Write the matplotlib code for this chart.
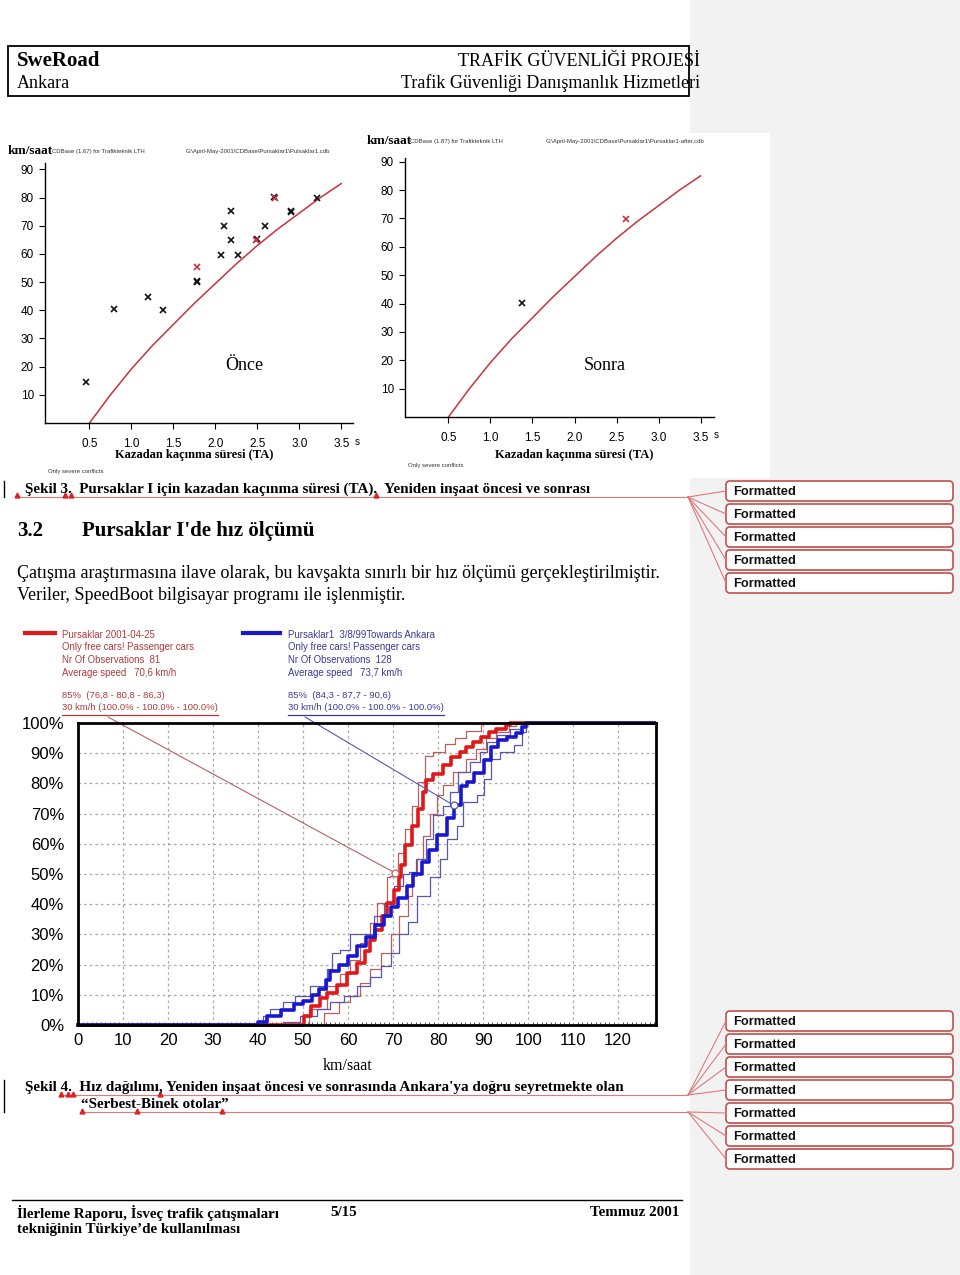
import matplotlib
matplotlib.use('Agg')
import matplotlib.pyplot as plt
from matplotlib.patches import Rectangle, FancyBboxPatch
from matplotlib.ticker import MultipleLocator

SERIF = 'Liberation Serif'
SANS = 'Liberation Sans'

# Sekil 3 - conflict curve (TA in s, speed in km/saat)
ta_curve = [0.5, 0.75, 1.0, 1.25, 1.5, 1.75, 2.0, 2.25, 2.5, 2.75, 3.0, 3.25, 3.5]
speed_curve = [0, 10, 19.2, 27.5, 35, 42.5, 49.5, 56.5, 63, 69, 74.5, 80, 85]

# "Once" conflicts
once_ta_black = [0.46, 0.79, 1.2, 1.38, 1.78, 1.78, 2.07, 2.1, 2.19, 2.19, 2.27, 2.5, 2.59, 2.7, 2.9, 2.9, 3.21]
once_sp_black = [14.7, 40.4, 44.7, 40.1, 50, 50.3, 59.5, 70, 75.2, 65, 59.7, 65.2, 70, 80.3, 74.9, 75.1, 80]
once_ta_red = [1.78, 2.48, 2.71]
once_sp_red = [55.4, 64.8, 79.7]

# "Sonra" conflicts
sonra_ta_black = [1.38]
sonra_sp_black = [40.2]
sonra_ta_red = [2.61]
sonra_sp_red = [69.7]

ta_ticks = [0.5, 1.0, 1.5, 2.0, 2.5, 3.0, 3.5]
speed_ticks = [10, 20, 30, 40, 50, 60, 70, 80, 90]

# Sekil 4 - cumulative speed distributions (km/h, %)
red_sp = [0, 49, 50.2, 51.7, 53.8, 55.3, 57.5, 59.7, 62, 63.8, 64.9, 66, 67.5, 68.6, 70.1, 71.2, 71.8,
          72.6, 74.1, 75.6, 76.7, 77.4, 78.9, 81.1, 82.9, 84.8, 86.2, 87.7, 89.5, 91.4, 92.8, 95, 96, 128]
red_pct = [0, 0, 3, 6.3, 9, 10.6, 13.4, 17.2, 20.5, 24.4, 28.2, 31.5, 36, 40.3, 44.7, 49, 53,
           59.5, 66, 71.5, 77, 81, 83, 86, 88.6, 90.4, 92, 93.6, 95.3, 97, 98, 99.3, 100, 100]
red_hi_sp = [0, 47.9, 51.3, 55.3, 58.3, 60.5, 62.7, 64.9, 66.5, 68.6, 69.3, 71, 72.6, 74.1, 75.6, 77,
             78.9, 81.5, 83.7, 86.2, 89.5, 128]
red_hi_pct = [0, 0, 5.3, 13, 17, 21.6, 27, 33.7, 40.3, 49, 49.4, 57, 64.9, 72.6, 80.3, 89,
              90.3, 93, 95, 97.5, 100, 100]
red_lo_sp = [0, 51.3, 54.6, 57.9, 60.5, 62.7, 64.9, 67.2, 69.5, 71.3, 73.2, 74.1, 75.2, 76.7, 78.2,
             79.7, 81.1, 83.3, 86.2, 88.4, 90.6, 92.8, 95.8, 97.2, 128]
red_lo_pct = [0, 0, 4, 7.5, 9.7, 14, 18.5, 24, 30, 36, 42.7, 49.4, 55, 62.7, 70,
              76, 79.4, 83.8, 88.2, 91.5, 94.9, 97, 99, 100, 100]

blue_sp = [0, 39.5, 40, 42, 45, 48, 50, 52, 53.5, 55, 56, 58, 60, 62, 64, 66, 68, 69.5, 71, 73, 74.5,
           76.5, 78, 79.7, 82, 83.5, 85, 86.5, 88, 90.2, 91.7, 93.2, 95.4, 97.2, 98.7, 99.5, 128]
blue_pct = [0, 0, 1, 3, 5, 7, 8, 10, 12, 15, 18, 20, 23, 26, 29, 33, 36, 39, 42, 46, 50,
            54, 58, 63, 68.6, 73, 79, 80.6, 83.4, 87.8, 92.2, 94.4, 95.5, 96.6, 98.8, 100, 100]
blue_hi_sp = [0, 38.2, 41.1, 42.6, 45.6, 48.2, 51.5, 55.3, 56.4, 58.3, 60.5, 63.5, 65.7, 68, 70.2,
              72.1, 73.6, 75.1, 77.3, 78.8, 81.1, 82.6, 84.4, 87, 89.3, 90.8, 93, 96, 98.3, 128]
blue_hi_pct = [0, 0, 3, 5.3, 7.5, 9.7, 13, 18.5, 24, 25, 30, 30, 36, 40, 46,
               50, 50.5, 55, 61.6, 69.5, 72.6, 77, 83.8, 87, 90.4, 93.6, 96, 98, 100, 100]
blue_lo_sp = [0, 42.6, 45.6, 49.3, 53, 56, 59, 62, 64.9, 67.2, 69.5, 71.3, 73.2, 75.4, 78.2, 80.4,
              81.9, 84.1, 85.6, 88.6, 90.1, 91.7, 93.8, 96.9, 98.7, 99.5, 128]
blue_lo_pct = [0, 0, 1, 3, 5.3, 7.5, 9.7, 13, 16, 19.6, 24, 30, 34, 42.7, 49, 55,
               61.6, 66, 73.7, 76, 81.6, 88.2, 90.4, 92.6, 97, 100, 100]

red_mark = (70.5, 50.3)
blue_mark = (83.5, 72.7)

kmh_ticks = [0, 10, 20, 30, 40, 50, 60, 70, 80, 90, 100, 110, 120]
pct_ticks = [0, 10, 20, 30, 40, 50, 60, 70, 80, 90, 100]

red_legend = ['Pursaklar 2001-04-25', 'Only free cars! Passenger cars',
              'Nr Of Observations  81', 'Average speed   70,6 km/h']
red_legend2 = ['85%  (76,8 - 80,8 - 86,3)', '30 km/h (100.0% - 100.0% - 100.0%)']
blue_legend = ['Pursaklar1  3/8/99Towards Ankara', 'Only free cars! Passenger cars',
               'Nr Of Observations  128', 'Average speed   73,7 km/h']
blue_legend2 = ['85%  (84,3 - 87,7 - 90,6)', '30 km/h (100.0% - 100.0% - 100.0%)']

fig = plt.figure(figsize=(9.6, 12.75), dpi=100)


def rect(l, t, r, b):
    return [l / 960, 1 - b / 1275, (r - l) / 960, (b - t) / 1275]


# page layer in pixel coordinates
bg = fig.add_axes([0, 0, 1, 1])
bg.set_xlim(0, 960)
bg.set_ylim(1275, 0)
bg.axis('off')
bg.set_zorder(0)

bg.add_patch(Rectangle((690, 0), 270, 1275, color='#f2f2f2', lw=0))
bg.add_patch(Rectangle((360, 133), 410, 345, color='white', lw=0))

# header
bg.add_patch(Rectangle((8, 46), 681, 50, fill=False, ec='black', lw=1.3))
bg.text(17, 61, 'SweRoad', fontfamily=SERIF, fontweight='bold', fontsize=15, va='center')
bg.text(17, 83, 'Ankara', fontfamily=SERIF, fontsize=13, va='center')
bg.text(700, 61, 'TRAFİK GÜVENLİĞİ PROJESİ', fontfamily=SERIF, fontsize=13, va='center', ha='right')
bg.text(700, 83, 'Trafik Güvenliği Danışmanlık Hizmetleri', fontfamily=SERIF, fontsize=13,
        va='center', ha='right')

# formatted balloons
red_line = '#e07a7a'
box_ys = [491, 514, 537, 560, 583]
box_ys2 = [1021, 1044, 1067, 1090, 1113, 1136, 1159]
for cy in box_ys + box_ys2:
    bg.add_patch(FancyBboxPatch((726, cy - 10), 227, 20, boxstyle='round,pad=0,rounding_size=4',
                                fc='white', ec='#c0504d', lw=1.2))
    bg.text(733, cy + 1, 'Formatted', fontfamily=SANS, fontweight='bold', fontsize=9.3,
            va='center', color='#111111')
for cy in box_ys:
    bg.plot([688, 726], [497, cy], color=red_line, lw=0.8)
for cy in box_ys2[:4]:
    bg.plot([688, 726], [1095, cy], color=red_line, lw=0.8)
for cy in box_ys2[4:]:
    bg.plot([688, 726], [1112, cy], color=red_line, lw=0.8)

# top charts texts
tiny = dict(fontfamily=SANS, fontsize=4.3, va='center', color='#333333')
bg.text(8, 151, 'km/saat', fontfamily=SERIF, fontweight='bold', fontsize=9.5, va='center')
bg.text(52, 151, 'CDBase (1.67) for Trafikteknik LTH', **tiny)
bg.text(186, 151, 'G:\\April-May-2001\\CDBase\\Pursaklar1\\Pulsaklar1.cdb', **tiny)
bg.text(48, 472, 'Only severe conflicts', **tiny)
bg.text(367, 141, 'km/saat', fontfamily=SERIF, fontweight='bold', fontsize=9.5, va='center')
bg.text(410, 142, 'CDBase (1.87) for Trafikteknik LTH', **tiny)
bg.text(546, 142, 'G:\\April-May-2001\\CDBase\\Pursaklar1\\Pursaklar1-after.cdb', **tiny)
bg.text(408, 465, 'Only severe conflicts', **tiny)
bg.text(194, 455, 'Kazadan kaçınma süresi (TA)', fontfamily=SERIF, fontweight='bold', fontsize=9,
        va='center', ha='center')
bg.text(574, 455, 'Kazadan kaçınma süresi (TA)', fontfamily=SERIF, fontweight='bold', fontsize=9,
        va='center', ha='center')
bg.text(355, 442, 's', fontfamily=SANS, fontsize=7, va='center')
bg.text(714, 435, 's', fontfamily=SANS, fontsize=7, va='center')
bg.text(244, 365, 'Önce', fontfamily=SERIF, fontsize=13, ha='center', va='center')
bg.text(605, 365, 'Sonra', fontfamily=SERIF, fontsize=13, ha='center', va='center')

# Sekil 3 caption and section
bg.text(25, 489, 'Şekil 3.  Pursaklar I için kazadan kaçınma süresi (TA).  Yeniden inşaat öncesi ve sonrası',
        fontfamily=SERIF, fontweight='bold', fontsize=10.9, va='center')
bg.plot([17, 688], [497, 497], color=red_line, lw=0.8)
bg.plot([4, 4], [481, 497], color='black', lw=1)
bg.plot([17, 65, 71, 376], [495, 495, 495, 495], ls='none', marker='^', ms=3.5, color='#e02020')
bg.text(17, 531, '3.2', fontfamily=SERIF, fontweight='bold', fontsize=15, va='center')
bg.text(82, 531, "Pursaklar I'de hız ölçümü", fontfamily=SERIF, fontweight='bold', fontsize=15, va='center')
bg.text(17, 574, 'Çatışma araştırmasına ilave olarak, bu kavşakta sınırlı bir hız ölçümü gerçekleştirilmiştir.',
        fontfamily=SERIF, fontsize=13, va='center')
bg.text(17, 595, 'Veriler, SpeedBoot bilgisayar programı ile işlenmiştir.',
        fontfamily=SERIF, fontsize=13, va='center')

# speed chart legend
red_txt = '#b03a3a'
blue_txt = '#3a3a9a'
bg.plot([25, 55], [633, 633], color='#e01818', lw=3)
bg.plot([243, 280], [633, 633], color='#1818d0', lw=3)
for i, s in enumerate(red_legend):
    bg.text(62, 635 + 12.5 * i, s, fontfamily=SANS, fontsize=6.9, color=red_txt, va='center')
for i, s in enumerate(blue_legend):
    bg.text(288, 635 + 12.5 * i, s, fontfamily=SANS, fontsize=6.9, color=blue_txt, va='center')
for i, s in enumerate(red_legend2):
    bg.text(62, 695 + 12.5 * i, s, fontfamily=SANS, fontsize=6.8, color=red_txt, va='center')
for i, s in enumerate(blue_legend2):
    bg.text(288, 695 + 12.5 * i, s, fontfamily=SANS, fontsize=6.8, color=blue_txt, va='center')
bg.plot([62, 218], [715, 715], color=red_txt, lw=0.9)
bg.plot([288, 444], [715, 715], color=blue_txt, lw=0.9)

# Sekil 4 caption, footer
bg.text(348, 1066, 'km/saat', fontfamily=SERIF, fontsize=11.5, va='center', ha='center')
bg.text(25, 1087, "Şekil 4.  Hız dağılımı, Yeniden inşaat öncesi ve sonrasında Ankara'ya doğru seyretmekte olan",
        fontfamily=SERIF, fontweight='bold', fontsize=10.9, va='center')
bg.text(81, 1104, '“Serbest-Binek otolar”', fontfamily=SERIF, fontweight='bold', fontsize=10.9, va='center')
bg.plot([60, 688], [1095, 1095], color=red_line, lw=0.8)
bg.plot([82, 688], [1112, 1112], color=red_line, lw=0.8)
bg.plot([4, 4], [1080, 1112], color='black', lw=1)
bg.plot([61, 68, 73, 160, 82, 137, 222], [1094, 1094, 1094, 1094, 1111, 1111, 1111],
        ls='none', marker='^', ms=3.5, color='#e02020')

bg.plot([12, 682], [1200, 1200], color='black', lw=1)
bg.text(17, 1213, 'İlerleme Raporu, İsveç trafik çatışmaları', fontfamily=SERIF, fontweight='bold',
        fontsize=10.8, va='center')
bg.text(17, 1229, 'tekniğinin Türkiye’de kullanılması', fontfamily=SERIF, fontweight='bold',
        fontsize=10.8, va='center')
bg.text(330, 1213, '5/15', fontfamily=SERIF, fontweight='bold', fontsize=10.8, va='center')
bg.text(679, 1213, 'Temmuz 2001', fontfamily=SERIF, fontweight='bold', fontsize=10.8, va='center', ha='right')


def conflict_axes(box, xlim, ylim, ta_b, sp_b, ta_r, sp_r):
    ax = fig.add_axes(rect(*box))
    ax.set_zorder(1)
    ax.patch.set_alpha(0)
    ax.plot(ta_curve, speed_curve, color='#c8323c', lw=1.1)
    ax.plot(ta_b, sp_b, ls='none', marker='x', ms=4.5, mew=1.2, color='#111111')
    ax.plot(ta_r, sp_r, ls='none', marker='x', ms=4.5, mew=1.2, color='#c8323c')
    ax.set_xlim(*xlim)
    ax.set_ylim(*ylim)
    ax.set_xticks(ta_ticks)
    ax.set_xticklabels([f'{v:.1f}' for v in ta_ticks])
    ax.set_yticks(speed_ticks)
    for sp in ['top', 'right']:
        ax.spines[sp].set_visible(False)
    for sp in ['left', 'bottom']:
        ax.spines[sp].set_linewidth(1)
    ax.tick_params(axis='y', labelsize=8.5, length=4, width=0.8, pad=4)
    ax.tick_params(axis='x', labelsize=8.5, length=4, width=0.8, pad=7)
    for t in ax.get_xticklabels() + ax.get_yticklabels():
        t.set_fontfamily(SANS)
    return ax


conflict_axes((45, 163, 353, 423), (-0.03, 3.64), (0, 92.3),
              once_ta_black, once_sp_black, once_ta_red, once_sp_red)
conflict_axes((405, 158, 714, 417), (-0.017, 3.66), (0, 91.3),
              sonra_ta_black, sonra_sp_black, sonra_ta_red, sonra_sp_red)

# speed distribution chart
ax = fig.add_axes(rect(78, 723, 656, 1025))
ax.set_zorder(2)
ax.patch.set_alpha(0)
thin_red = '#b86060'
thin_blue = '#5858a8'
ax.plot(red_hi_sp, red_hi_pct, drawstyle='steps-post', color=thin_red, lw=0.9)
ax.plot(red_lo_sp, red_lo_pct, drawstyle='steps-post', color=thin_red, lw=0.9)
ax.plot(blue_hi_sp, blue_hi_pct, drawstyle='steps-post', color=thin_blue, lw=0.9)
ax.plot(blue_lo_sp, blue_lo_pct, drawstyle='steps-post', color=thin_blue, lw=0.9)
ax.plot(red_sp, red_pct, drawstyle='steps-post', color='#e01818', lw=2.6, clip_on=False)
ax.plot(blue_sp, blue_pct, drawstyle='steps-post', color='#1818d0', lw=2.6, clip_on=False)
ax.plot(*red_mark, marker='o', ms=5, mfc='white', mec=thin_red, mew=0.9)
ax.plot(*blue_mark, marker='o', ms=5, mfc='white', mec=thin_blue, mew=0.9)
ax.annotate('', xy=red_mark, xycoords='data', xytext=(108, 717), textcoords=bg.transData,
            arrowprops=dict(arrowstyle='-', color=thin_red, lw=0.8, shrinkA=0, shrinkB=2.5),
            annotation_clip=False)
ax.annotate('', xy=blue_mark, xycoords='data', xytext=(305, 717), textcoords=bg.transData,
            arrowprops=dict(arrowstyle='-', color=thin_blue, lw=0.8, shrinkA=0, shrinkB=2.5),
            annotation_clip=False)
ax.set_xlim(0, 128.4)
ax.set_ylim(0, 100)
ax.set_xticks(kmh_ticks)
ax.set_yticks(pct_ticks)
ax.set_yticklabels([f'{v}%' for v in pct_ticks])
ax.xaxis.set_minor_locator(MultipleLocator(1))
ax.grid(True, which='major', color='#a8a8a8', ls=(0, (2, 2.5)), lw=0.9)
ax.tick_params(which='major', length=0, labelsize=12, pad=10)
ax.tick_params(axis='x', which='major', pad=6)
ax.tick_params(axis='x', which='minor', direction='in', length=2.5, width=0.6, color='#333333')
for t in ax.get_xticklabels() + ax.get_yticklabels():
    t.set_fontfamily(SANS)
for sp in ax.spines.values():
    sp.set_linewidth(2)
    sp.set_zorder(5)

fig.savefig('out.png', dpi=100)
